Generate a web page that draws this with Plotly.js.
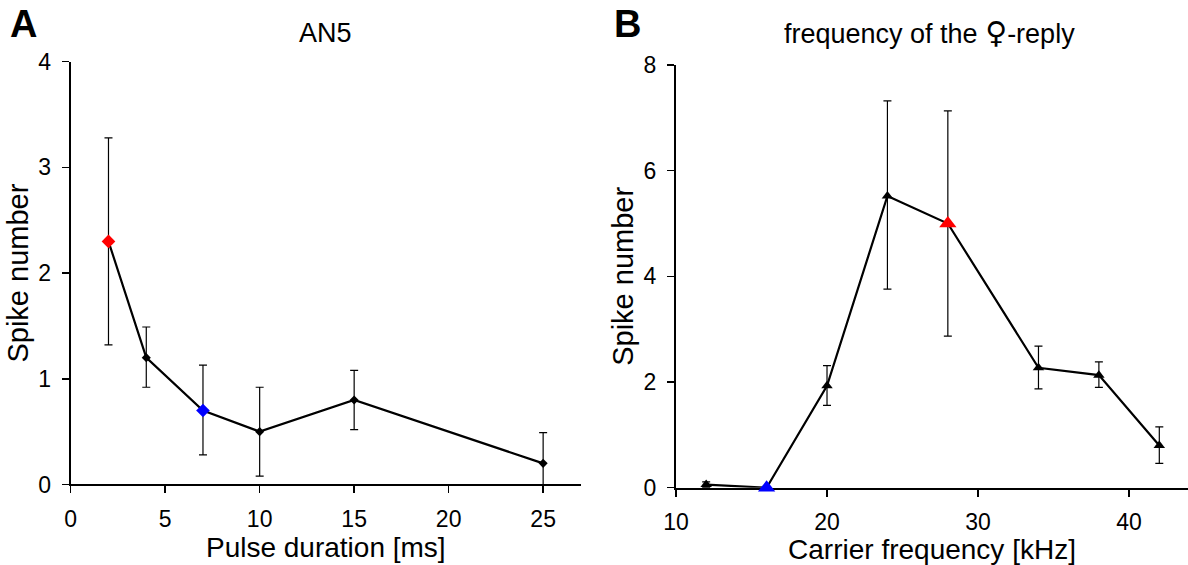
<!DOCTYPE html>
<html>
<head>
<meta charset="utf-8">
<script src="https://cdn.plot.ly/plotly-3.0.1.min.js"></script>
<style>html,body{margin:0;padding:0;background:#fff;}#chart{width:1188px;height:565px;}</style>
</head>
<body>
<div id="chart"></div>
<script>
// Panel A: AN5, spike number vs pulse duration
const durationMs = [2, 4, 7, 10, 15, 25];
const spikesA = [2.3, 1.2, 0.7, 0.5, 0.8, 0.2];
const errAPlus = [0.98, 0.29, 0.43, 0.42, 0.28, 0.29];
const errAMinus = [0.98, 0.28, 0.42, 0.42, 0.28, 0.2];
const colorsA = ['#ff0000', '#000000', '#0000ff', '#000000', '#000000', '#000000'];

// Panel B: frequency of the female reply, spike number vs carrier frequency
const carrierKHz = [12, 16, 20, 24, 28, 34, 38, 42];
const spikesB = [0.06, 0.0, 1.93, 5.52, 5.0, 2.27, 2.13, 0.8];
const errBPlus = [0.05, 0.0, 0.38, 1.8, 2.13, 0.41, 0.25, 0.35];
const errBMinus = [0.06, 0.0, 0.37, 1.76, 2.13, 0.4, 0.23, 0.34];
const colorsB = ['#000000', '#0000ff', '#000000', '#000000', '#ff0000', '#000000', '#000000', '#000000'];

const ticksAx = [0, 5, 10, 15, 20, 25];
const ticksAy = [0, 1, 2, 3, 4];
const ticksBx = [10, 20, 30, 40];
const ticksBy = [0, 2, 4, 6, 8];

const FONT = 'Liberation Sans, Arial, Helvetica, sans-serif';

const traceA = {
  x: durationMs, y: spikesA, xaxis: 'x', yaxis: 'y',
  type: 'scatter', mode: 'lines+markers', cliponaxis: false,
  line: {color: '#000', width: 2.2},
  marker: {symbol: 'diamond', color: colorsA, opacity: 1,
           size: colorsA.map(c => c === '#000000' ? 7 : 10.5),
           line: {width: 0}},
  error_y: {type: 'data', symmetric: false, array: errAPlus, arrayminus: errAMinus,
            color: '#000', thickness: 1.2, width: 4},
  hoverinfo: 'x+y', showlegend: false
};
const traceB = {
  x: carrierKHz, y: spikesB, xaxis: 'x2', yaxis: 'y2',
  type: 'scatter', mode: 'lines+markers', cliponaxis: false,
  line: {color: '#000', width: 2.2},
  marker: {symbol: 'triangle-up', color: colorsB, opacity: 1,
           size: colorsB.map(c => c === '#000000' ? 10 : 15),
           line: {width: 0}},
  error_y: {type: 'data', symmetric: false, array: errBPlus, arrayminus: errBMinus,
            color: '#000', thickness: 1.2, width: 4},
  hoverinfo: 'x+y', showlegend: false
};

function axis(extra) {
  return Object.assign({
    showgrid: false, zeroline: false, showline: true, linecolor: '#000', linewidth: 2,
    ticks: 'outside', ticklen: 7, tickwidth: 1.5, tickcolor: '#000',
    ticklabelstandoff: 6, layer: 'below traces',
    tickfont: {family: FONT, size: 23, color: '#000'},
    automargin: false, fixedrange: true
  }, extra);
}

const layout = {
  width: 1188, height: 565,
  margin: {l: 0, r: 0, t: 0, b: 0},
  paper_bgcolor: '#fff', plot_bgcolor: '#fff',
  font: {family: FONT, color: '#000'},
  xaxis: axis({domain: [0.0595, 0.489], range: [0, 27], tickvals: ticksAx, anchor: 'y',
    title: {text: 'Pulse duration [ms]', font: {family: FONT, size: 28, color: '#000'}, standoff: 0}}),
  yaxis: axis({domain: [0.1425, 0.8908], range: [0, 4], tickvals: ticksAy, anchor: 'x',
    title: {text: 'Spike number', font: {family: FONT, size: 29, color: '#000'}, standoff: 1}}),
  xaxis2: axis({domain: [0.569, 1.0], range: [10, 43.9], tickvals: ticksBx, anchor: 'y2',
    title: {text: 'Carrier frequency [kHz]', font: {family: FONT, size: 28, color: '#000'}, standoff: 0}}),
  yaxis2: axis({domain: [0.1368, 0.885], range: [0, 8], tickvals: ticksBy, anchor: 'x2',
    title: {text: 'Spike number', font: {family: FONT, size: 29, color: '#000'}, standoff: 1}}),
  annotations: [
    {text: '<b>A</b>', xref: 'paper', yref: 'paper', x: 23/1188, y: 1 - 24/565,
     xanchor: 'center', yanchor: 'middle', showarrow: false, font: {family: FONT, size: 38, color: '#000'}},
    {text: '<b>B</b>', xref: 'paper', yref: 'paper', x: 627/1188, y: 1 - 24/565,
     xanchor: 'center', yanchor: 'middle', showarrow: false, font: {family: FONT, size: 38, color: '#000'}},
    {text: 'AN5', xref: 'paper', yref: 'paper', x: 325/1188, y: 1 - 33/565,
     xanchor: 'center', yanchor: 'middle', showarrow: false, font: {family: FONT, size: 27, color: '#000'}},
    {text: 'frequency of the <span style="font-family:DejaVu Sans;font-size:30px">♀</span>-reply',
     xref: 'paper', yref: 'paper', x: 929/1188, y: 1 - 33/565,
     xanchor: 'center', yanchor: 'middle', showarrow: false, font: {family: FONT, size: 27, color: '#000'}}
  ]
};

Plotly.newPlot('chart', [traceA, traceB], layout, {displayModeBar: false, staticPlot: true});
</script>
</body>
</html>
